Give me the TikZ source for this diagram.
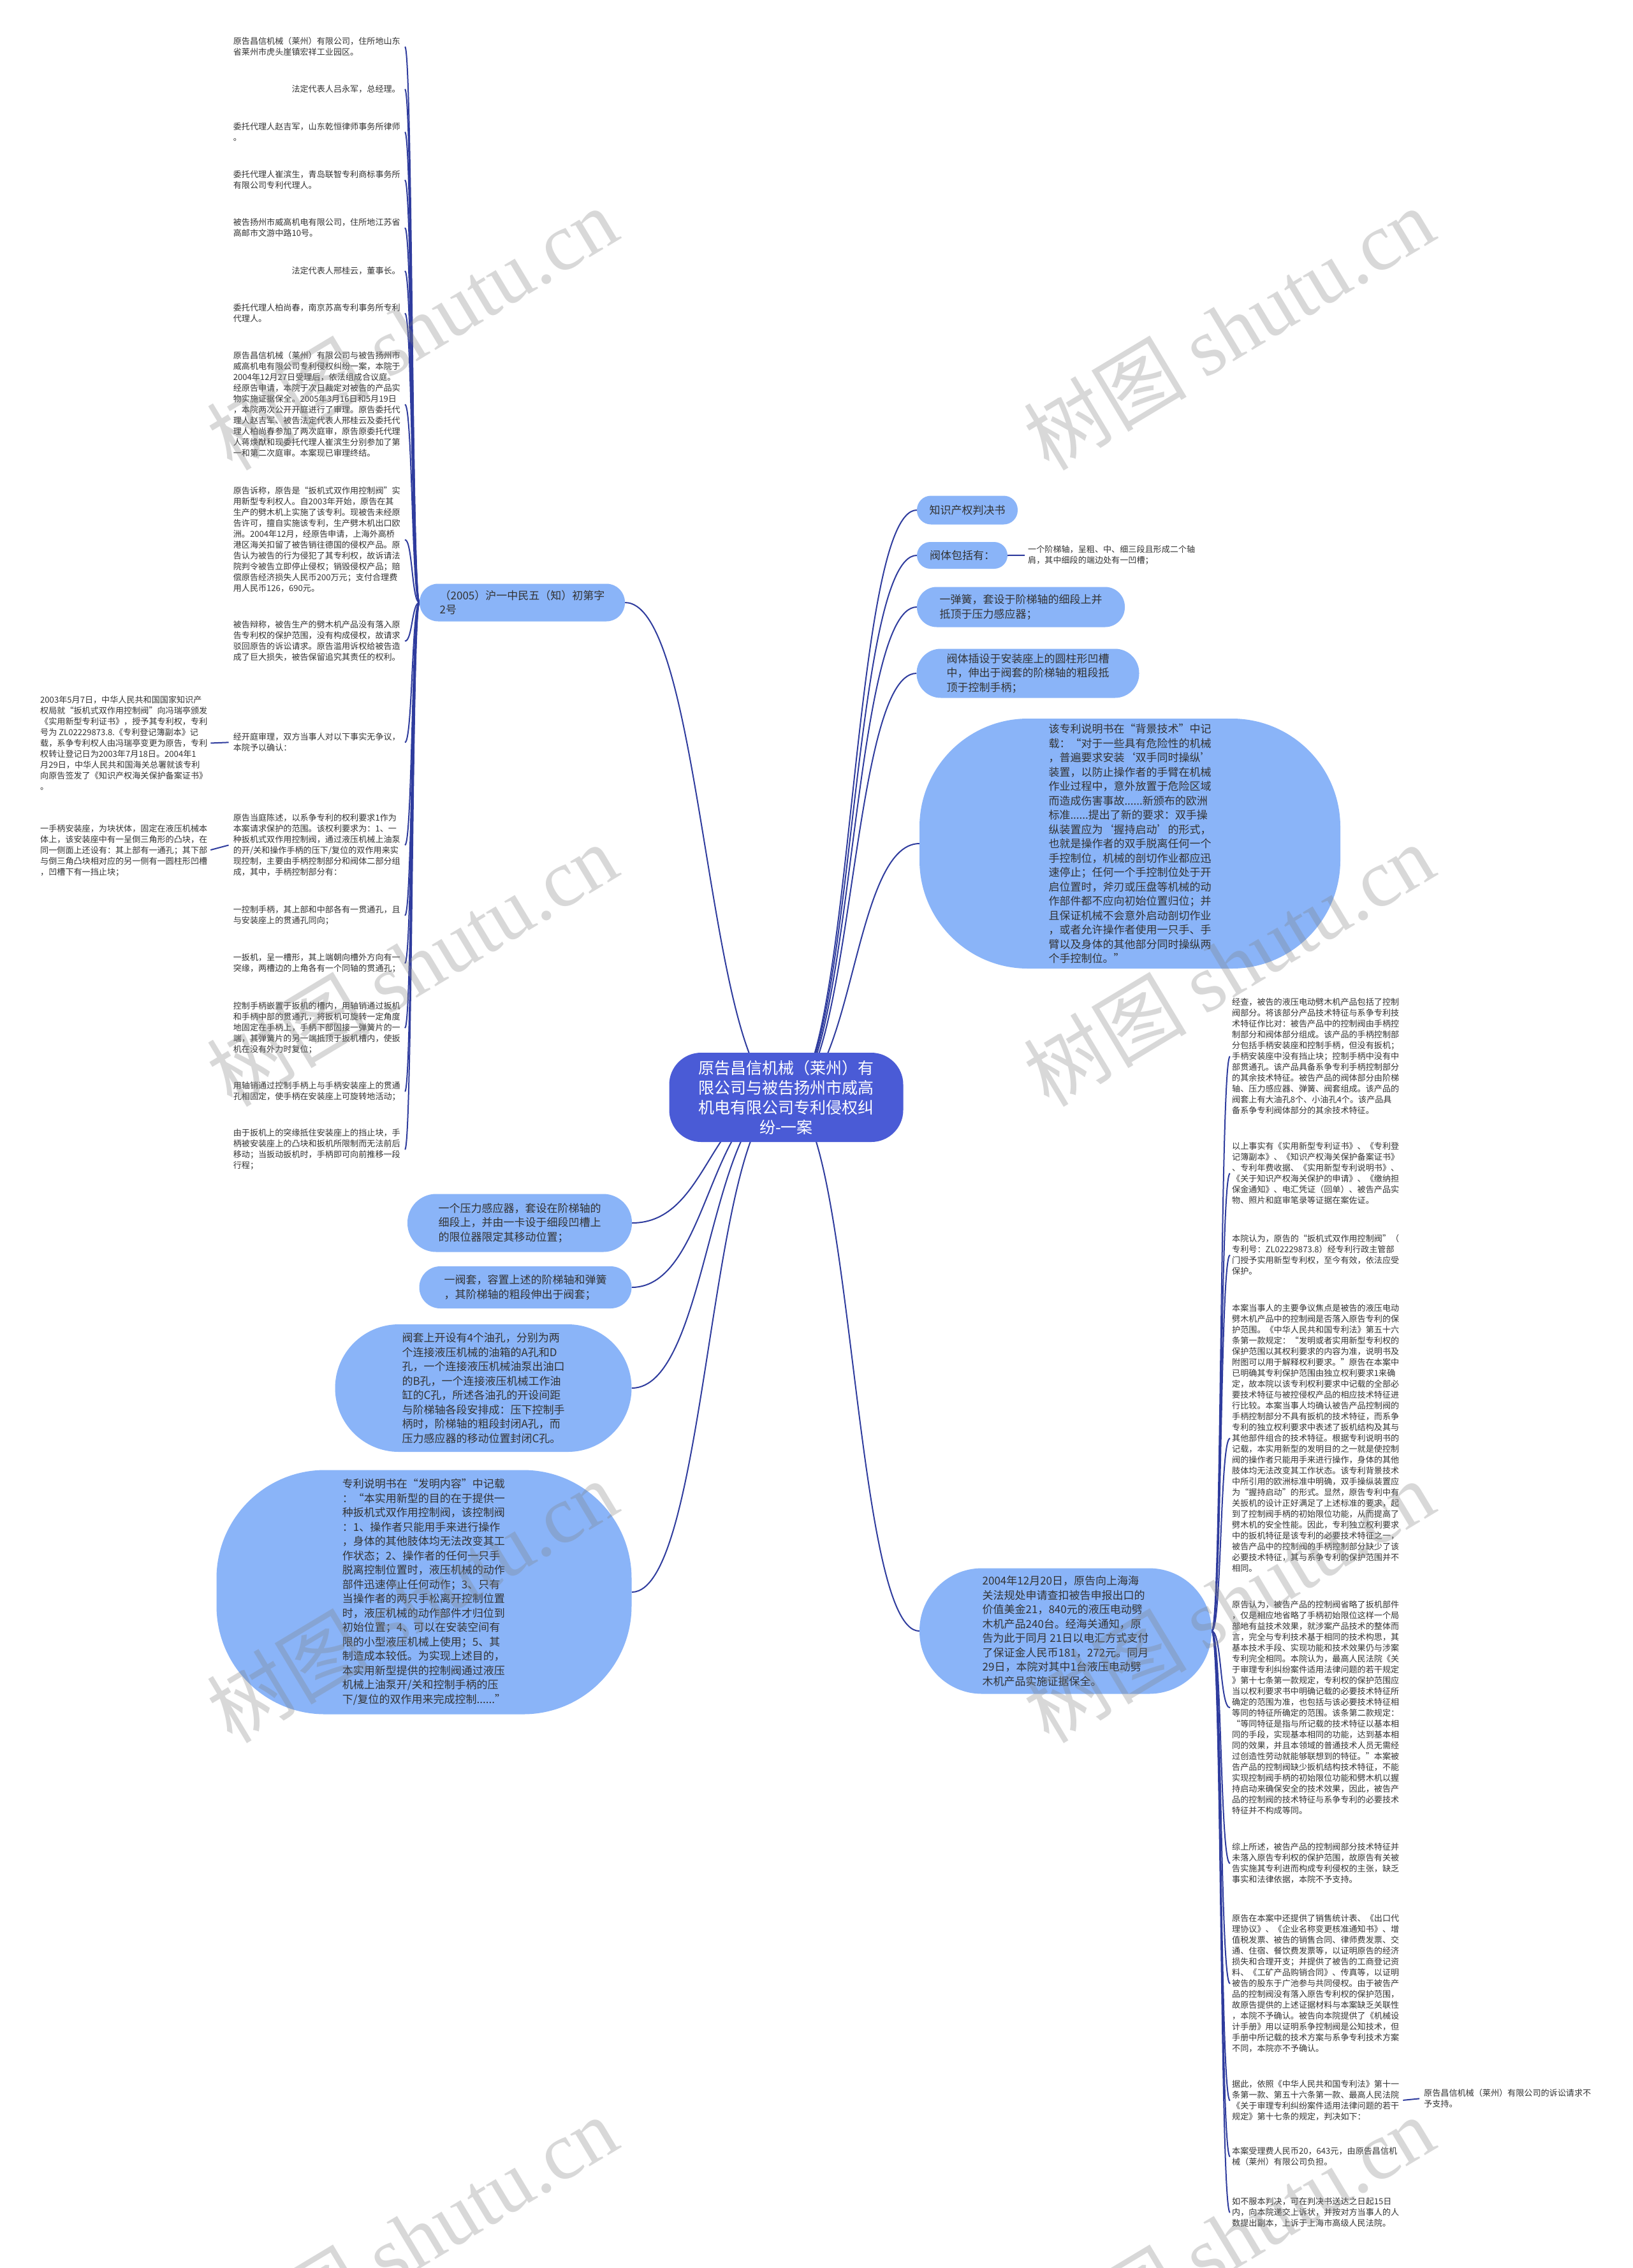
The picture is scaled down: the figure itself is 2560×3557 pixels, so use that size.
\documentclass[tikz,border=0pt]{standalone}
\usepackage{fontspec}
\setmainfont{Noto Sans CJK SC}
\newfontfamily\wmlatin{Liberation Serif}
\usetikzlibrary{backgrounds}
\definecolor{bubc}{HTML}{8AB4F8}
\definecolor{cenc}{HTML}{4A5BD6}
\definecolor{linec}{HTML}{2F3C9E}
\definecolor{textc}{HTML}{333333}
\begin{document}
\begin{tikzpicture}[x=1pt,y=-1pt,
  leaf/.style={font=\fontsize{13.1}{17}\selectfont, align=left, inner sep=0pt, text=textc},
  bub/.style={fill=bubc, font=\fontsize{17}{22.5}\selectfont, align=left, inner sep=0pt, text=textc},
  cen/.style={fill=cenc, text=white, font=\fontsize{25}{31}\selectfont, align=center, inner sep=0pt},
  conn/.style={draw=linec, line width=2pt},
  wm/.style={text=black!50, opacity=0.3, font=\fontsize{128}{132}\selectfont, rotate=31, inner sep=0pt}]
\useasboundingbox (0,0) rectangle (2560,3557);

% centre
\node[cen, minimum width=367pt, minimum height=140pt, rounded corners=50pt] (c) at (1233,1721) {原告昌信机械（莱州）有\\限公司与被告扬州市威高\\机电有限公司专利侵权纠\\纷-一案};

% left branch
\node[bub, minimum width=322pt, minimum height=59pt, rounded corners=29pt] (br) at (819,945) {（2005）沪一中民五（知）初第字\\2号};

\node[leaf, anchor=north east] (l1) at (628,58.5) {原告昌信机械（莱州）有限公司，住所地山东\\省莱州市虎头崖镇宏祥工业园区。};
\node[leaf, anchor=north east] (l2) at (628,133.5) {法定代表人吕永军，总经理。};
\node[leaf, anchor=north east] (l3) at (628,192.5) {委托代理人赵吉军，山东乾恒律师事务所律师\\。};
\node[leaf, anchor=north east] (l4) at (628,267.5) {委托代理人崔滨生，青岛联智专利商标事务所\\有限公司专利代理人。};
\node[leaf, anchor=north east] (l5) at (628,342.5) {被告扬州市威高机电有限公司，住所地江苏省\\高邮市文游中路10号。};
\node[leaf, anchor=north east] (l6) at (628,418.5) {法定代表人邢桂云，董事长。};
\node[leaf, anchor=north east] (l7) at (628,476.5) {委托代理人柏尚春，南京苏高专利事务所专利\\代理人。};
\node[leaf, anchor=north east] (l8) at (628,551.5) {原告昌信机械（莱州）有限公司与被告扬州市\\威高机电有限公司专利侵权纠纷一案，本院于\\2004年12月27日受理后，依法组成合议庭。\\经原告申请，本院于次日裁定对被告的产品实\\物实施证据保全。2005年3月16日和5月19日\\，本院两次公开开庭进行了审理。原告委托代\\理人赵吉军、被告法定代表人邢桂云及委托代\\理人柏尚春参加了两次庭审，原告原委托代理\\人蒋焕猷和现委托代理人崔滨生分别参加了第\\一和第二次庭审。本案现已审理终结。};
\node[leaf, anchor=north east] (l9) at (628,763.5) {原告诉称，原告是“扳机式双作用控制阀”实\\用新型专利权人。自2003年开始，原告在其\\生产的劈木机上实施了该专利。现被告未经原\\告许可，擅自实施该专利，生产劈木机出口欧\\洲。2004年12月，经原告申请，上海外高桥\\港区海关扣留了被告销往德国的侵权产品。原\\告认为被告的行为侵犯了其专利权，故诉请法\\院判令被告立即停止侵权；销毁侵权产品；赔\\偿原告经济损失人民币200万元；支付合理费\\用人民币126，690元。};
\node[leaf, anchor=north east] (l10) at (628,973.5) {被告辩称，被告生产的劈木机产品没有落入原\\告专利权的保护范围，没有构成侵权，故请求\\驳回原告的诉讼请求。原告滥用诉权给被告造\\成了巨大损失，被告保留追究其责任的权利。};
\node[leaf, anchor=north east] (l11) at (628,1149.5) {经开庭审理，双方当事人对以下事实无争议，\\本院予以确认：};
\node[leaf, anchor=north east] (l12) at (628,1276.5) {原告当庭陈述，以系争专利的权利要求1作为\\本案请求保护的范围。该权利要求为：1、一\\种扳机式双作用控制阀，通过液压机械上油泵\\的开/关和操作手柄的压下/复位的双作用来实\\现控制，主要由手柄控制部分和阀体二部分组\\成，其中，手柄控制部分有：};
\node[leaf, anchor=north east] (l13) at (628,1420.5) {一控制手柄，其上部和中部各有一贯通孔，且\\与安装座上的贯通孔同向；};
\node[leaf, anchor=north east] (l14) at (628,1495.5) {一扳机，呈一槽形，其上端朝向槽外方向有一\\突缘，两槽边的上角各有一个同轴的贯通孔；};
\node[leaf, anchor=north east] (l15) at (628,1571.5) {控制手柄嵌置于扳机的槽内，用轴销通过扳机\\和手柄中部的贯通孔，将扳机可旋转一定角度\\地固定在手柄上，手柄下部固接一弹簧片的一\\端，其弹簧片的另一端抵顶于扳机槽内，使扳\\机在没有外力时复位；};
\node[leaf, anchor=north east] (l16) at (628,1696.5) {用轴销通过控制手柄上与手柄安装座上的贯通\\孔相固定，使手柄在安装座上可旋转地活动；};
\node[leaf, anchor=north east] (l17) at (628,1770.5) {由于扳机上的突缘抵住安装座上的挡止块，手\\柄被安装座上的凸块和扳机所限制而无法前后\\移动；当扳动扳机时，手柄即可向前推移一段\\行程；};

\node[leaf, anchor=north west] (fa) at (63,1091.5) {2003年5月7日，中华人民共和国国家知识产\\权局就“扳机式双作用控制阀”向冯瑞亭颁发\\《实用新型专利证书》，授予其专利权，专利\\号为 ZL02229873.8.《专利登记簿副本》记\\载，系争专利权人由冯瑞亭变更为原告，专利\\权转让登记日为2003年7月18日。2004年1\\月29日，中华人民共和国海关总署就该专利\\向原告签发了《知识产权海关保护备案证书》\\。};
\node[leaf, anchor=north west] (fb) at (63,1293.5) {一手柄安装座，为块状体，固定在液压机械本\\体上，该安装座中有一呈倒三角形的凸块，在\\同一侧面上还设有：其上部有一通孔；其下部\\与倒三角凸块相对应的另一侧有一圆柱形凹槽\\，凹槽下有一挡止块；};

% left bottom bubbles
\node[bub, minimum width=352pt, minimum height=91pt, rounded corners=45pt] (lb1) at (815,1918) {一个压力感应器，套设在阶梯轴的\\细段上，并由一卡设于细段凹槽上\\的限位器限定其移动位置；};
\node[bub, minimum width=333pt, minimum height=66pt, rounded corners=33pt] (lb2) at (824,2019) {一阀套，容置上述的阶梯轴和弹簧\\，其阶梯轴的粗段伸出于阀套；};
\node[bub, minimum width=465pt, minimum height=200pt, rounded corners=100pt] (lb3) at (758,2177) {阀套上开设有4个油孔，分别为两\\个连接液压机械的油箱的A孔和D\\孔，一个连接液压机械油泵出油口\\的B孔，一个连接液压机械工作油\\缸的C孔，所述各油孔的开设间距\\与阶梯轴各段安排成：压下控制手\\柄时，阶梯轴的粗段封闭A孔，而\\压力感应器的移动位置封闭C孔。};
\node[bub, minimum width=651pt, minimum height=383pt, rounded corners=170pt] (lb4) at (665,2497) {专利说明书在“发明内容”中记载\\：“本实用新型的目的在于提供一\\种扳机式双作用控制阀，该控制阀\\：1、操作者只能用手来进行操作\\，身体的其他肢体均无法改变其工\\作状态；2、操作者的任何一只手\\脱离控制位置时，液压机械的动作\\部件迅速停止任何动作；3、只有\\当操作者的两只手松离开控制位置\\时，液压机械的动作部件才归位到\\初始位置；4、可以在安装空间有\\限的小型液压机械上使用；5、其\\制造成本较低。为实现上述目的，\\本实用新型提供的控制阀通过液压\\机械上油泵开/关和控制手柄的压\\下/复位的双作用来完成控制......”};

% right bubbles
\node[bub, minimum width=158pt, minimum height=45pt, rounded corners=22pt] (r1) at (1517,800) {知识产权判决书};
\node[bub, minimum width=142pt, minimum height=42pt, rounded corners=21pt] (r2) at (1509,871) {阀体包括有：};
\node[leaf, anchor=north west] (r2a) at (1612,855.5) {一个阶梯轴，呈粗、中、细三段且形成二个轴\\肩，其中细段的端边处有一凹槽；};
\node[bub, minimum width=326pt, minimum height=63pt, rounded corners=31pt] (r3) at (1601,952) {一弹簧，套设于阶梯轴的细段上并\\抵顶于压力感应器；};
\node[bub, minimum width=349pt, minimum height=77pt, rounded corners=38pt] (r4) at (1612,1056) {阀体插设于安装座上的圆柱形凹槽\\中，伸出于阀套的阶梯轴的粗段抵\\顶于控制手柄；};
\node[bub, minimum width=660pt, minimum height=392pt, rounded corners=170pt] (r5) at (1772,1323) {该专利说明书在“背景技术”中记\\载：“对于一些具有危险性的机械\\，普遍要求安装‘双手同时操纵’\\装置，以防止操作者的手臂在机械\\作业过程中，意外放置于危险区域\\而造成伤害事故......新颁布的欧洲\\标准......提出了新的要求：双手操\\纵装置应为‘握持启动’的形式，\\也就是操作者的双手脱离任何一个\\手控制位，机械的剖切作业都应迅\\速停止；任何一个手控制位处于开\\启位置时，斧刃或压盘等机械的动\\作部件都不应向初始位置归位；并\\且保证机械不会意外启动剖切作业\\，或者允许操作者使用一只手、手\\臂以及身体的其他部分同时操纵两\\个手控制位。”};
\node[bub, minimum width=458pt, minimum height=197pt, rounded corners=98pt] (r6) at (1671,2558) {2004年12月20日，原告向上海海\\关法规处申请查扣被告申报出口的\\价值美金21，840元的液压电动劈\\木机产品240台。经海关通知，原\\告为此于同月 21日以电汇方式支付\\了保证金人民币181，272元。同月\\29日，本院对其中1台液压电动劈\\木机产品实施证据保全。};

% right column
\node[leaf, anchor=north west] (q1) at (1932,1565.5) {经查，被告的液压电动劈木机产品包括了控制\\阀部分。将该部分产品技术特征与系争专利技\\术特征作比对：被告产品中的控制阀由手柄控\\制部分和阀体部分组成。该产品的手柄控制部\\分包括手柄安装座和控制手柄，但没有扳机；\\手柄安装座中没有挡止块；控制手柄中没有中\\部贯通孔。该产品具备系争专利手柄控制部分\\的其余技术特征。被告产品的阀体部分由阶梯\\轴、压力感应器、弹簧、阀套组成。该产品的\\阀套上有大油孔8个、小油孔4个。该产品具\\备系争专利阀体部分的其余技术特征。};
\node[leaf, anchor=north west] (q2) at (1932,1791.5) {以上事实有《实用新型专利证书》、《专利登\\记簿副本》、《知识产权海关保护备案证书》\\、专利年费收据、《实用新型专利说明书》、\\《关于知识产权海关保护的申请》、《缴纳担\\保金通知》、电汇凭证（回单）、被告产品实\\物、照片和庭审笔录等证据在案佐证。};
\node[leaf, anchor=north west] (q3) at (1932,1936.5) {本院认为，原告的“扳机式双作用控制阀”（\\专利号：ZL02229873.8）经专利行政主管部\\门授予实用新型专利权，至今有效，依法应受\\保护。};
\node[leaf, anchor=north west] (q4) at (1932,2045.5) {本案当事人的主要争议焦点是被告的液压电动\\劈木机产品中的控制阀是否落入原告专利的保\\护范围。《中华人民共和国专利法》第五十六\\条第一款规定：“发明或者实用新型专利权的\\保护范围以其权利要求的内容为准，说明书及\\附图可以用于解释权利要求。”原告在本案中\\已明确其专利保护范围由独立权利要求1来确\\定，故本院以该专利权利要求中记载的全部必\\要技术特征与被控侵权产品的相应技术特征进\\行比较。本案当事人均确认被告产品控制阀的\\手柄控制部分不具有扳机的技术特征，而系争\\专利的独立权利要求中表述了扳机结构及其与\\其他部件组合的技术特征。根据专利说明书的\\记载，本实用新型的发明目的之一就是使控制\\阀的操作者只能用手来进行操作，身体的其他\\肢体均无法改变其工作状态。该专利背景技术\\中所引用的欧洲标准中明确，双手操纵装置应\\为“握持启动”的形式。显然，原告专利中有\\关扳机的设计正好满足了上述标准的要求，起\\到了控制阀手柄的初始限位功能，从而提高了\\劈木机的安全性能。因此，专利独立权利要求\\中的扳机特征是该专利的必要技术特征之一，\\被告产品中的控制阀的手柄控制部分缺少了该\\必要技术特征，其与系争专利的保护范围并不\\相同。};
\node[leaf, anchor=north west] (q5) at (1932,2510.5) {原告认为，被告产品的控制阀省略了扳机部件\\，仅是相应地省略了手柄初始限位这样一个局\\部地有益技术效果，就涉案产品技术的整体而\\言，完全与专利技术基于相同的技术构思，其\\基本技术手段、实现功能和技术效果仍与涉案\\专利完全相同。本院认为，最高人民法院《关\\于审理专利纠纷案件适用法律问题的若干规定\\》第十七条第一款规定，专利权的保护范围应\\当以权利要求书中明确记载的必要技术特征所\\确定的范围为准，也包括与该必要技术特征相\\等同的特征所确定的范围。该条第二款规定：\\“等同特征是指与所记载的技术特征以基本相\\同的手段，实现基本相同的功能，达到基本相\\同的效果，并且本领域的普通技术人员无需经\\过创造性劳动就能够联想到的特征。”本案被\\告产品的控制阀缺少扳机结构技术特征，不能\\实现控制阀手柄的初始限位功能和劈木机以握\\持启动来确保安全的技术效果，因此，被告产\\品的控制阀的技术特征与系争专利的必要技术\\特征并不构成等同。};
\node[leaf, anchor=north west] (q6) at (1932,2890.5) {综上所述，被告产品的控制阀部分技术特征并\\未落入原告专利权的保护范围，故原告有关被\\告实施其专利进而构成专利侵权的主张，缺乏\\事实和法律依据，本院不予支持。};
\node[leaf, anchor=north west] (q7) at (1932,3002.5) {原告在本案中还提供了销售统计表、《出口代\\理协议》、《企业名称变更核准通知书》、增\\值税发票、被告的销售合同、律师费发票、交\\通、住宿、餐饮费发票等，以证明原告的经济\\损失和合理开支；并提供了被告的工商登记资\\料、《工矿产品购销合同》、传真等，以证明\\被告的股东于广池参与共同侵权。由于被告产\\品的控制阀没有落入原告专利权的保护范围，\\故原告提供的上述证据材料与本案缺乏关联性\\，本院不予确认。被告向本院提供了《机械设\\计手册》用以证明系争控制阀是公知技术，但\\手册中所记载的技术方案与系争专利技术方案\\不同，本院亦不予确认。};
\node[leaf, anchor=north west] (q8) at (1932,3262.5) {据此，依照《中华人民共和国专利法》第十一\\条第一款、第五十六条第一款、最高人民法院\\《关于审理专利纠纷案件适用法律问题的若干\\规定》第十七条的规定，判决如下：};
\node[leaf, anchor=north west] (q8a) at (2233,3276.5) {原告昌信机械（莱州）有限公司的诉讼请求不\\予支持。};
\node[leaf, anchor=north west] (q9) at (1932,3367.5) {本案受理费人民币20，643元，由原告昌信机\\械（莱州）有限公司负担。};
\node[leaf, anchor=north west] (q10) at (1932,3446.5) {如不服本判决，可在判决书送达之日起15日\\内，向本院递交上诉状，并按对方当事人的人\\数提出副本，上诉于上海市高级人民法院。};

% connectors
\begin{scope}[on background layer]
  \fill[white] (0,0) rectangle (2560,3557);
  \foreach \n in {r1,r2,r3,r4,r5,r6}
    \draw[conn] (c.center) .. controls +(105pt,0pt) and +(-105pt,0pt) .. (\n.west);
  \draw[conn] (c.center) .. controls +(-125pt,0pt) and +(125pt,0pt) .. (br.east);
  \foreach \n in {lb1,lb2,lb3,lb4}
    \draw[conn] (c.center) .. controls +(-121pt,0pt) and +(121pt,0pt) .. (\n.east);
  \foreach \n in {l1,l2,l3,l4,l5,l6,l7,l8,l9,l10,l11,l12,l13,l14,l15,l16,l17}
    \draw[conn] (br.west) .. controls +(-12pt,0pt) and +(12pt,0pt) .. ([xshift=7pt]\n.east);
  \foreach \n in {q1,q2,q3,q4,q5,q6,q7,q8,q9,q10}
    \draw[conn] (r6.east) .. controls +(16pt,0pt) and +(-16pt,0pt) .. ([xshift=-3pt]\n.west);
  \draw[conn] (r2.east) -- ([xshift=-5pt]r2a.west);
  \draw[conn, shorten <=6pt] (q8.east) -- ([xshift=-7pt]q8a.west);
  \draw[conn, shorten <=5pt] (fa.east) -- ([xshift=-7pt]l11.west);
  \draw[conn, shorten <=5pt] (fb.east) -- ([xshift=-7pt]l12.west);
\end{scope}

% watermarks
\node[wm] (wm1) at (646,515) {树图 {\wmlatin shutu.cn}};
\node[wm] (wm2) at (1927,515) {树图 {\wmlatin shutu.cn}};
\node[wm] (wm3) at (646,1513) {树图 {\wmlatin shutu.cn}};
\node[wm] (wm4) at (1927,1513) {树图 {\wmlatin shutu.cn}};
\node[wm] (wm5) at (646,2511) {树图 {\wmlatin shutu.cn}};
\node[wm] (wm6) at (1927,2511) {树图 {\wmlatin shutu.cn}};
\node[wm] (wm7) at (646,3509) {树图 {\wmlatin shutu.cn}};
\node[wm] (wm8) at (1927,3509) {树图 {\wmlatin shutu.cn}};
\end{tikzpicture}
\end{document}
